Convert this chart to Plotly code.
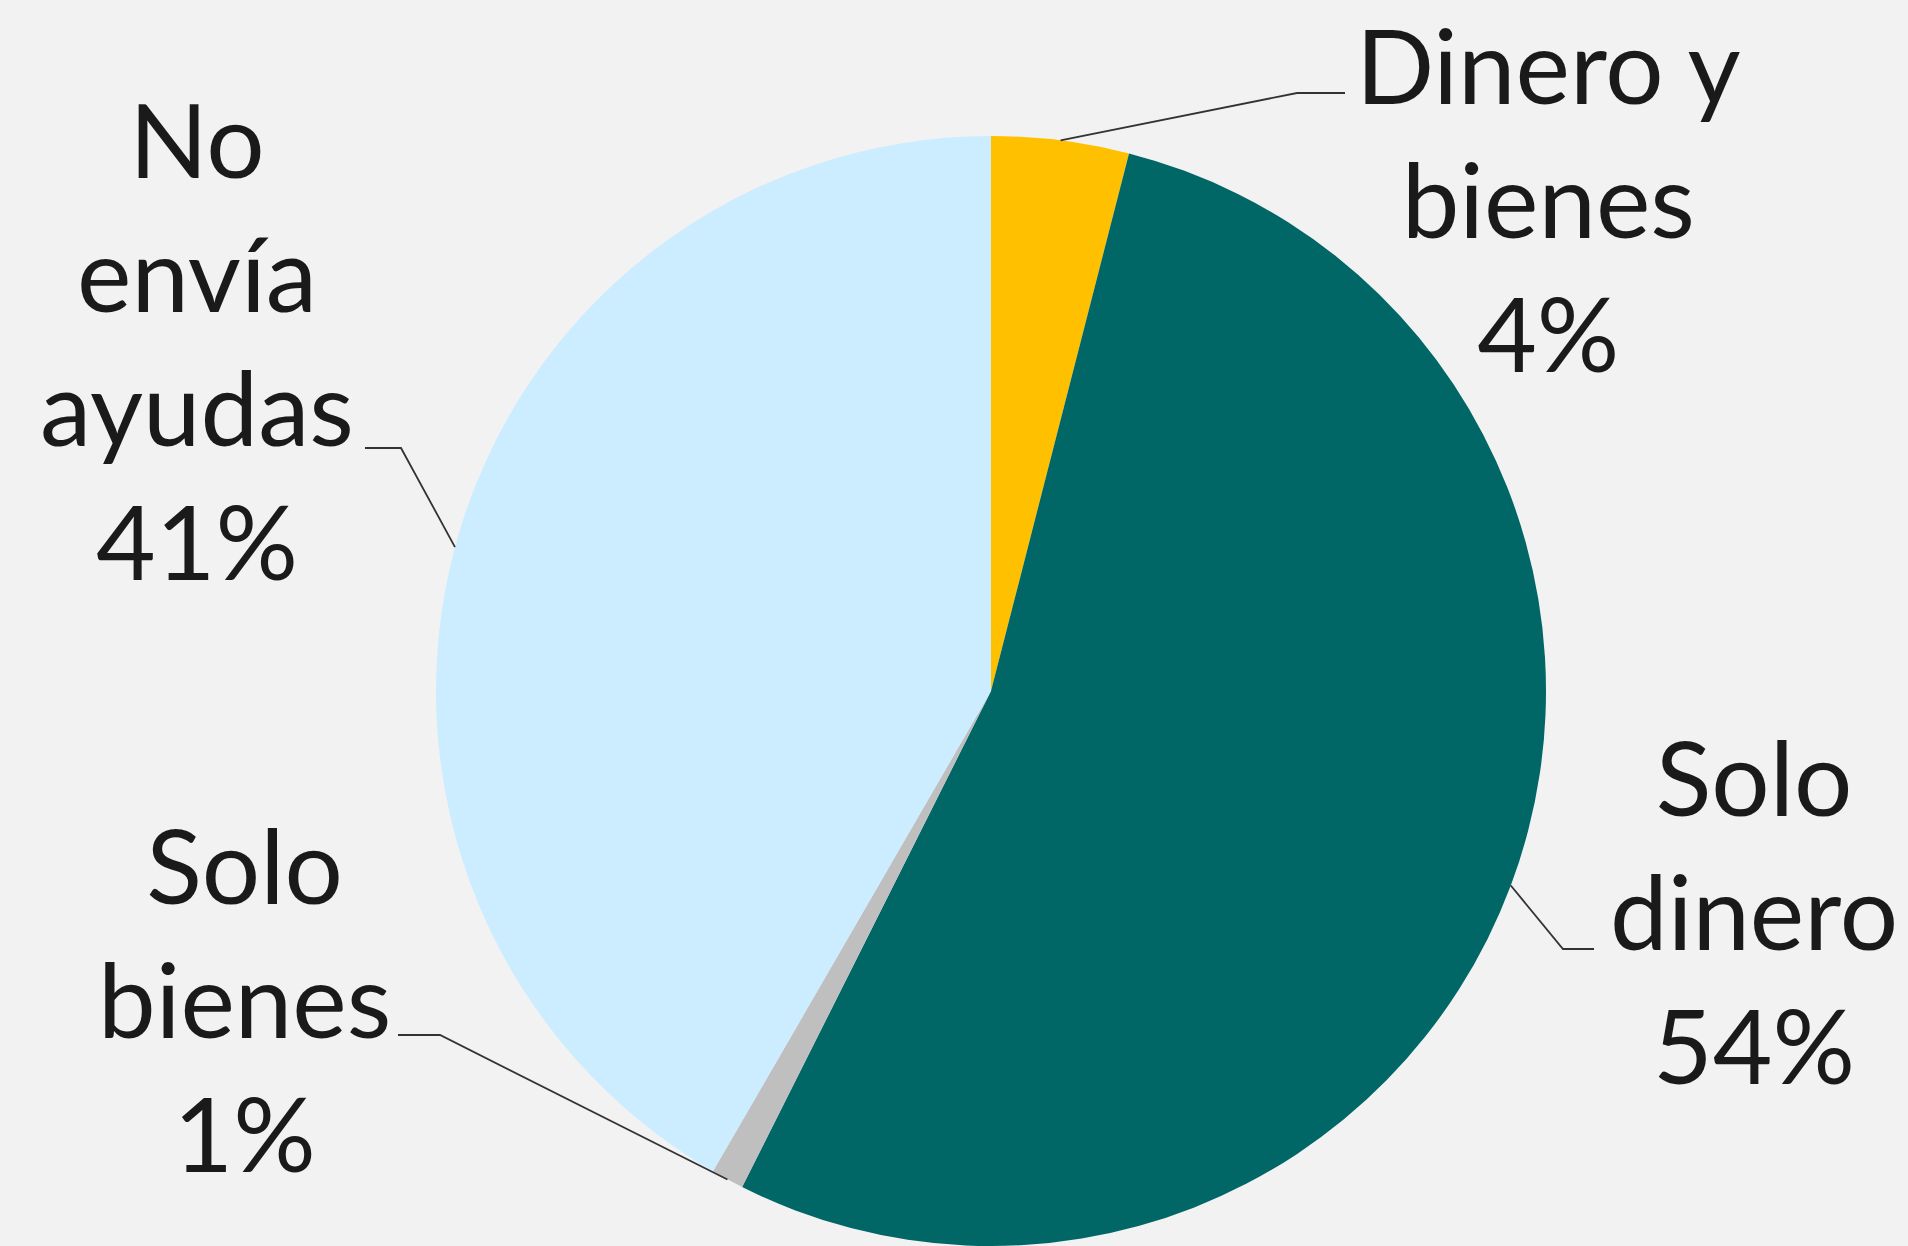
import math
import plotly.graph_objects as go

# ---- data ----
categories = ["Dinero y bienes", "Solo dinero", "Solo bienes", "No envía ayudas"]
values = [4.0, 53.4, 0.95, 41.65]
pct_labels = ["4%", "54%", "1%", "41%"]
label_lines = [["Dinero y", "bienes"], ["Solo", "dinero"], ["Solo", "bienes"], ["No", "envía", "ayudas"]]
colors = ["#FFC000", "#006666", "#BFBFBF", "#CCECFF"]

# ---- layout geometry (pixels) ----
W, H = 1908, 1246
dom_x = [436 / W, 1546 / W]
dom_y = [0.0, 1110 / H]
cx = W * (dom_x[0] + dom_x[1]) / 2
R = min(W * (dom_x[1] - dom_x[0]), H * (dom_y[1] - dom_y[0])) / 2
cy = H - R

# label placement: (center x, middle y) and leader elbow / end points
label_pos = [(1548, 198), (1754, 910), (244, 998), (197, 339)]
leader_elbow = [(1297, 93), (1563, 949), (440, 1035), (401, 448)]
leader_end = [(1345, 93), (1594, 949), (398, 1035), (365, 448)]
FONT = "Lato, 'Open Sans', sans-serif"
TXT = "#1a1a1a"
FS = 103

fig = go.Figure(go.Pie(
    labels=categories,
    values=values,
    sort=False,
    direction="clockwise",
    rotation=0,
    marker=dict(colors=colors, line=dict(width=0)),
    textinfo="none",
    hoverinfo="label+percent",
    showlegend=False,
    domain=dict(x=dom_x, y=dom_y),
))

def px2paper(x, y):
    return x / W, 1 - y / H

total = sum(values)
cum = 0.0
shapes = []
annotations = []
for i, v in enumerate(values):
    mid = (cum + v / 2) / total * 2 * math.pi
    cum += v
    sx = cx + R * math.sin(mid)
    sy = cy - R * math.cos(mid)
    ex, ey = leader_elbow[i]
    tx, ty = leader_end[i]
    p0 = px2paper(sx, sy)
    p1 = px2paper(ex, ey)
    p2 = px2paper(tx, ty)
    shapes.append(dict(
        type="path", xref="paper", yref="paper",
        path=f"M {p0[0]} {p0[1]} L {p1[0]} {p1[1]} L {p2[0]} {p2[1]}",
        line=dict(color="#333333", width=1.8),
    ))
    lx, ly = label_pos[i]
    ax, ay = px2paper(lx, ly)
    annotations.append(dict(
        x=ax, y=ay, xref="paper", yref="paper",
        xanchor="center", yanchor="middle", align="center",
        showarrow=False,
        text="<br>".join(label_lines[i] + [pct_labels[i]]),
        font=dict(family=FONT, size=FS, color=TXT),
    ))

fig.update_layout(
    width=W, height=H,
    margin=dict(l=0, r=0, t=0, b=0),
    paper_bgcolor="#F2F2F2",
    plot_bgcolor="#F2F2F2",
    shapes=shapes,
    annotations=annotations,
)

fig.write_html(
    "out.html",
    config={"displayModeBar": False},
    post_script="document.body.style.margin='0';document.body.style.background='#F2F2F2';",
)
